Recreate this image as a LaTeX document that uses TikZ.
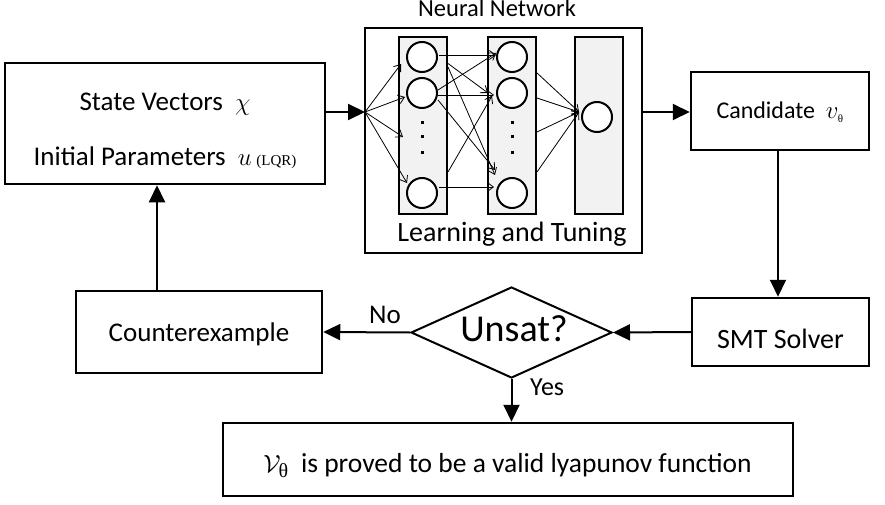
\documentclass[tikz,border=0pt]{standalone}
\usepackage{fontspec}
\setmainfont{Carlito}
\newfontfamily\serifsym{Liberation Serif}
\usetikzlibrary{arrows.meta,shapes.geometric}
\definecolor{layergray}{HTML}{F2F2F2}
\begin{document}
\begin{tikzpicture}[x=1pt,y=-1pt,
  box/.style={draw, line width=2.5pt, inner sep=0pt, fill=white},
  arr/.style={line width=2pt, -{Triangle[length=17pt,width=16pt]}},
  nnarr/.style={line width=0.8pt, -{Straight Barb[length=6pt,width=9pt]}},
  layer/.style={draw, line width=2pt, fill=layergray, minimum width=48pt, minimum height=177pt, inner sep=0pt},
  neuron/.style={circle, draw, line width=2pt, fill=white, minimum size=30pt, inner sep=0pt},
  dotsq/.style={fill=black, minimum size=3pt, inner sep=0pt},
  lbl/.style={anchor=base, inner sep=0pt, font=\fontsize{27}{32}\selectfont}
]
\useasboundingbox (0,0) rectangle (885,505);

% boxes
\node[box, minimum width=320pt, minimum height=121pt] (inp) at (165,123.5) {};
\node[lbl] (sv) at (165,111) {State Vectors\ \ {\fontsize{30}{32}\selectfont$\chi$}};
\node[lbl] (ip) at (165,166) {Initial Parameters\ \ $u$\,{\serifsym\fontsize{15}{18}\selectfont(LQR)}};

\node[box, minimum width=277pt, minimum height=225pt] (nn) at (503.5,140.5) {};
\node[lbl, font=\fontsize{24.5}{28}\selectfont] (nnt) at (497,17) {Neural Network};
\node[lbl, font=\fontsize{28}{32}\selectfont] (lt) at (512,241) {Learning and Tuning};

\node[box, minimum width=178pt, minimum height=78pt] (cand) at (780,111) {};
\node[lbl, font=\fontsize{24}{30}\selectfont] (candt) at (780,119) {Candidate\ \ $v_{\hbox{\serifsym\fontsize{11}{12}\selectfont θ}}$};

\node[box, minimum width=177pt, minimum height=68pt] (smt) at (780.5,332) {};
\node[lbl, font=\fontsize{28}{32}\selectfont] (smtt) at (780.5,348) {SMT Solver};

\node[draw, diamond, line width=2pt, minimum width=201pt, minimum height=91pt, inner sep=0pt, aspect=2.2] (unsat) at (511.5,332.5) {};
\node[lbl, font=\fontsize{38}{42}\selectfont] (unsatt) at (514,341) {Unsat?};

\node[box, minimum width=246pt, minimum height=82pt] (ce) at (199,332) {};
\node[lbl] (cet) at (199,341) {Counterexample};

\node[box, minimum width=570pt, minimum height=73pt] (fin) at (508,459.5) {};
\node[lbl, font=\fontsize{27.5}{32}\selectfont] (fint) at (507.5,472) {$\mathcal{V}_{\hbox{\serifsym\fontsize{20}{22}\selectfont θ}}$\ \ is proved to be a valid lyapunov function};

% neural network interior
\node[layer] (l1) at (423,125.5) {};
\node[layer] (l2) at (512,125.5) {};
\node[layer] (l3) at (599,125.5) {};

\node[neuron] (a1) at (422,57) {};
\node[neuron] (a2) at (422,93) {};
\node[neuron] (a3) at (422,193) {};
\node[neuron] (b1) at (512,57) {};
\node[neuron] (b2) at (512,93) {};
\node[neuron] (b3) at (512,193) {};
\node[neuron] (c1) at (597,117) {};

\foreach \yy [count=\i] in {123,137,153} {
  \node[dotsq] (da\i) at (422,\yy) {};
  \node[dotsq] (db\i) at (512,\yy) {};
}

\coordinate (in) at (365,112);
\coordinate (out) at (642,112);
\coordinate (i1) at (401,64);
\coordinate (i2) at (405,97);
\coordinate (i3) at (403,137);
\coordinate (i4) at (407,183);
\foreach \c in {i1,i2,i3,i4} \draw[nnarr] (in) -- (\c);

% layer 1 -> layer 2
\draw[nnarr] (439,55) -- (496,55);
\draw[nnarr] (446,62) -- (488,93);
\draw[nnarr] (448,67) -- (495,175);
\draw[nnarr] (438,95) -- (494,95);
\draw[nnarr] (438,90) -- (496,53);
\draw[nnarr] (438,100) -- (495,170);
\draw[nnarr] (439,187) -- (494,187);
\draw[nnarr] (448,172) -- (492,96);

% layer 2 -> layer 3
\coordinate (h) at (579,112);
\draw[nnarr] (537,73) -- (h);
\draw[nnarr] (537,98) -- (h);
\draw[nnarr] (537,132) -- (h);
\draw[nnarr] (537,172) -- (h);

% main connectors
\draw[arr] (inp.east |- in) -- (in);
\draw[arr] (out) -- (cand.west |- out);
\draw[arr] ([xshift=-2pt]cand.south) -- ([xshift=-2pt]cand.south |- smt.north);
\draw[arr] (smt.west) -- (unsat.east);
\draw[arr] (unsat.west) -- (ce.east);
\node[lbl, anchor=base west] (no) at (369,323) {No};
\draw[arr] ([xshift=-42pt]ce.north) -- ([xshift=-42pt]ce.north |- inp.south);
\draw[arr] (unsat.south) -- (unsat.south |- fin.north);
\node[lbl, font=\fontsize{26}{30}\selectfont, anchor=base west] (yes) at (530,395) {Yes};
\end{tikzpicture}
\end{document}
